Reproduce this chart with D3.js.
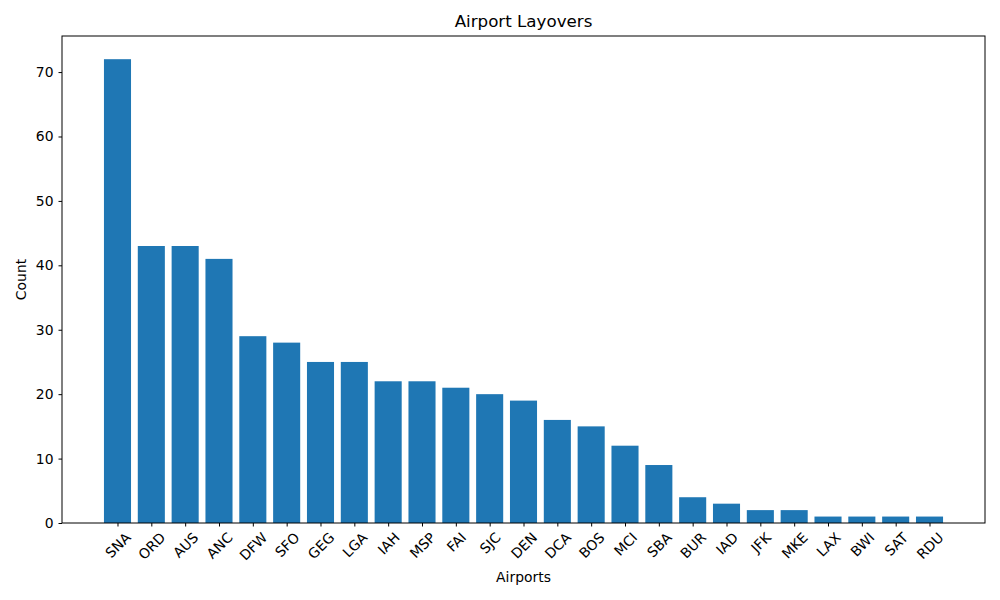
<!DOCTYPE html>
<html>
<head>
<meta charset="utf-8">
<script src="https://cdn.jsdelivr.net/npm/d3@7"></script>
<style>
  body { margin: 0; background: #fff; }
  text { font-family: "DejaVu Sans", sans-serif; }
</style>
</head>
<body>
<div class="wrapper"></div>
<script>
const WIDTH = 1000
const HEIGHT = 600
const margin = {left: 62, right: 15, top: 36, bottom: 77}
const FONT = 13.9

var airports = ['SNA', 'ORD', 'AUS', 'ANC', 'DFW', 'SFO', 'GEG', 'LGA', 'IAH', 'MSP',
                'FAI', 'SJC', 'DEN', 'DCA', 'BOS', 'MCI', 'SBA', 'BUR', 'IAD', 'JFK',
                'MKE', 'LAX', 'BWI', 'SAT', 'RDU']
var counts = [72, 43, 43, 41, 29, 28, 25, 25, 22, 22,
              21, 20, 19, 16, 15, 12, 9, 4, 3, 2,
              2, 1, 1, 1, 1]
var yTicks = [0, 10, 20, 30, 40, 50, 60, 70]

var barWidth = 0.8
var color = '#1f77b4'

var svg = d3.select(".wrapper")
    .append("svg")
    .attr("width", WIDTH)
    .attr("height", HEIGHT)

// matplotlib style auto margins: 5% on each side of the data extent
var xLo = -barWidth / 2, xHi = airports.length - 1 + barWidth / 2
var xPad = (xHi - xLo) * 0.05
var x = d3.scaleLinear()
    .domain([xLo - xPad, xHi + xPad])
    .range([margin.left, WIDTH - margin.right])

var yMax = d3.max(counts) * 1.05
var y = d3.scaleLinear()
    .domain([0, yMax])
    .range([HEIGHT - margin.bottom, margin.top])

svg.append("g")
  .selectAll("rect")
  .data(counts)
  .join("rect")
    .attr("x", (d, i) => x(i - barWidth / 2))
    .attr("width", (d, i) => x(i + barWidth / 2) - x(i - barWidth / 2))
    .attr("y", d => y(d))
    .attr("height", d => y(0) - y(d))
    .attr("fill", color)

// axes
var xAxis = svg.append("g")
    .attr("transform", `translate(0,${HEIGHT - margin.bottom})`)
    .call(d3.axisBottom(x)
        .tickValues(d3.range(airports.length))
        .tickFormat(i => airports[i])
        .tickSizeOuter(0)
        .tickSize(3.5))
xAxis.select(".domain").remove()
xAxis.selectAll("text")
    .attr("y", 0)
    .attr("dy", 0)
    .attr("text-anchor", "middle")
    .attr("dominant-baseline", "central")
    .style("font-size", FONT + "px")
    .style("fill", "#000")
    .each(function() {
      // rotated bbox is centred on the tick, its top just under the tick mark
      var w = this.getComputedTextLength()
      var h = (w + FONT * 1.0) * Math.SQRT1_2
      d3.select(this).attr("transform", `translate(0,${7 + h / 2}) rotate(-45)`)
    })

var yAxis = svg.append("g")
    .attr("transform", `translate(${margin.left},0)`)
    .call(d3.axisLeft(y)
        .tickValues(yTicks)
        .tickSizeOuter(0)
        .tickSize(3.5)
        .tickPadding(5))
yAxis.select(".domain").remove()
yAxis.selectAll("text")
    .style("font-size", FONT + "px")
    .style("fill", "#000")

// frame
svg.append("rect")
    .attr("x", margin.left)
    .attr("y", margin.top)
    .attr("width", WIDTH - margin.left - margin.right)
    .attr("height", HEIGHT - margin.top - margin.bottom)
    .attr("fill", "none")
    .attr("stroke", "#000")
    .attr("stroke-width", 1)

svg.append("text")
    .attr("x", (margin.left + WIDTH - margin.right) / 2)
    .attr("y", 27)
    .attr("text-anchor", "middle")
    .style("font-size", "16.7px")
    .text("Airport Layovers")

svg.append("text")
    .attr("x", (margin.left + WIDTH - margin.right) / 2)
    .attr("y", 582)
    .attr("text-anchor", "middle")
    .style("font-size", FONT + "px")
    .text("Airports")

svg.append("text")
    .attr("transform", `translate(26,${(margin.top + HEIGHT - margin.bottom) / 2}) rotate(-90)`)
    .attr("text-anchor", "middle")
    .style("font-size", FONT + "px")
    .text("Count")
</script>
</body>
</html>
